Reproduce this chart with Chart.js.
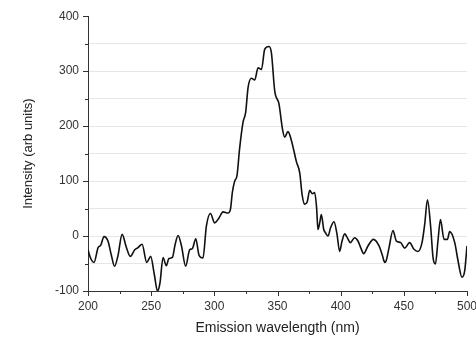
<!DOCTYPE html>
<html>
<head>
<meta charset="utf-8">
<script src="https://cdn.jsdelivr.net/npm/chart.js@4"></script>
<style>
    html, body { margin: 0; padding: 0; background: #fff; }
    #wrap { width: 476px; height: 338px; }
</style>
</head>
<body>
<div id="wrap"><canvas id="emissionChart"></canvas></div>
<script>
// values
const wavelength = [
    200, 202, 204.8, 208, 210, 212.7, 215.8, 218.5, 221, 223.7, 227, 230.4, 233.5, 237, 239.6,
    242.8, 246.5, 249.6, 252.5, 255, 257, 259.4, 262, 264, 266.8, 269, 271.3, 274, 277.3, 280.5,
    282.6, 285.3, 287.9, 291, 293.7, 296.9, 300.3, 303.7, 306.9, 310.8, 312.7, 314.3, 316, 318,
    320, 322.7, 324.8, 326.7, 329.3, 332, 334.6, 337.3, 339.9, 343.3, 345.2, 347.8, 351.2, 353.9,
    355.7, 358.3, 361, 365, 367.6, 369.5, 371.5, 373.5, 375.5, 377.6, 379.4, 381, 382, 383.5,
    384.7, 386.6, 388, 390, 392, 394.7, 397, 399.2, 401, 403.2, 405, 407.7, 411, 413.7, 416,
    418.2, 421.6, 426, 430.4, 433, 434.9, 436, 438.3, 441.4, 444.1, 447.5, 450.7, 454.6, 458,
    461.2, 464.4, 466.5, 468.7, 471.3, 473.1, 475, 477, 479, 481.8, 484.5, 486.3, 490.3, 492.9,
    496, 498.2, 500
];
const intensity = [
    -25, -40, -48, -21, -17, -1, -9, -35, -55, -36, 3, -21, -37, -25, -21,
    -15, -48, -37, -70, -100, -85, -39, -54, -41, -39, -15, 1, -18, -55, -25,
    -23, -5, -35, -40, 18, 41, 24, 33, 44, 42, 48, 80, 99, 111,
    159, 207, 225, 270, 287, 284, 306, 303, 340, 345, 333, 264, 240, 195,
    180, 190, 174, 135, 115, 75, 58, 62, 83, 77, 79, 50, 12, 25,
    39, 12, 6, 0, 15, 26, 5, -28, -10, 4, -2, -12, -3, -9, -22,
    -32, -18, -6, -18, -35, -48, -45, -21, 10, -9, -12, -22, -12, -24,
    -28, -12, 21, 66, 15, -39, -51, -9, 30, -6, -6, 8, -12, -45,
    -75, -63, -18
];
const xTicks = [200, 250, 300, 350, 400, 450, 500];
const yTicks = [-100, 0, 100, 200, 300, 400];

const FONT = 'Liberation Sans, Arial, sans-serif';
const AXIS = '#333333';

// little outward tick marks, long on labelled values, short in between
const tickMarks = {
    id: 'tickMarks',
    afterDraw(chart) {
        const ctx = chart.ctx;
        const xs = chart.scales.x, ys = chart.scales.y;
        ctx.save();
        ctx.strokeStyle = AXIS;
        ctx.lineWidth = 1;
        ctx.beginPath();
        xs.ticks.forEach(t => {
            const px = Math.round(xs.getPixelForValue(t.value)) + 0.5;
            const len = xTicks.includes(t.value) ? 5 : 3;
            ctx.moveTo(px, xs.top);
            ctx.lineTo(px, xs.top + len);
        });
        ys.ticks.forEach(t => {
            const py = Math.round(ys.getPixelForValue(t.value)) + 0.5;
            const len = yTicks.includes(t.value) ? 5 : 3;
            ctx.moveTo(ys.right, py);
            ctx.lineTo(ys.right - len, py);
        });
        ctx.stroke();
        ctx.restore();
    }
};

new Chart(document.getElementById('emissionChart'), {
    type: 'line',
    data: {
        datasets: [{
            data: wavelength.map((w, i) => ({ x: w, y: intensity[i] })),
            borderColor: '#111111',
            borderWidth: 1.6,
            pointRadius: 0,
            fill: false,
            cubicInterpolationMode: 'monotone'
        }]
    },
    options: {
        responsive: true,
        maintainAspectRatio: false,
        animation: false,
        layout: { padding: { top: 13, right: 9, bottom: 0, left: 0 } },
        plugins: { legend: { display: false }, tooltip: { enabled: false } },
        scales: {
            x: {
                type: 'linear',
                min: 200,
                max: 500,
                afterFit(scale) {
                    scale.height = 47;
                    scale.paddingRight = 0;
                    scale.paddingLeft = 0;
                },
                ticks: {
                    stepSize: 25,
                    autoSkip: false,
                    maxRotation: 0,
                    padding: 8,
                    color: AXIS,
                    font: { family: FONT, size: 12 },
                    callback: v => xTicks.includes(v) ? v : ''
                },
                grid: { drawOnChartArea: false, drawTicks: false },
                border: { display: true, color: AXIS, width: 1 },
                title: {
                    display: true,
                    text: 'Emission wavelength (nm)',
                    color: '#222222',
                    font: { family: FONT, size: 14 },
                    padding: { top: 0, bottom: 1 }
                }
            },
            y: {
                min: -100,
                max: 400,
                afterFit(scale) {
                    scale.width = 88;
                },
                ticks: {
                    stepSize: 50,
                    autoSkip: false,
                    padding: 9,
                    color: AXIS,
                    font: { family: FONT, size: 12 },
                    callback: v => yTicks.includes(v) ? v : ''
                },
                grid: {
                    drawTicks: false,
                    color: c => (c.tick && (c.tick.value === 400 || c.tick.value === -100)) ? 'rgba(0,0,0,0)' : '#e6e6e6',
                    lineWidth: 1
                },
                border: { display: true, color: AXIS, width: 1 },
                title: {
                    display: true,
                    text: 'Intensity (arb units)',
                    color: '#222222',
                    font: { family: FONT, size: 13 },
                    padding: { top: 21, bottom: 0 }
                }
            }
        }
    },
    plugins: [tickMarks]
});
</script>
</body>
</html>
